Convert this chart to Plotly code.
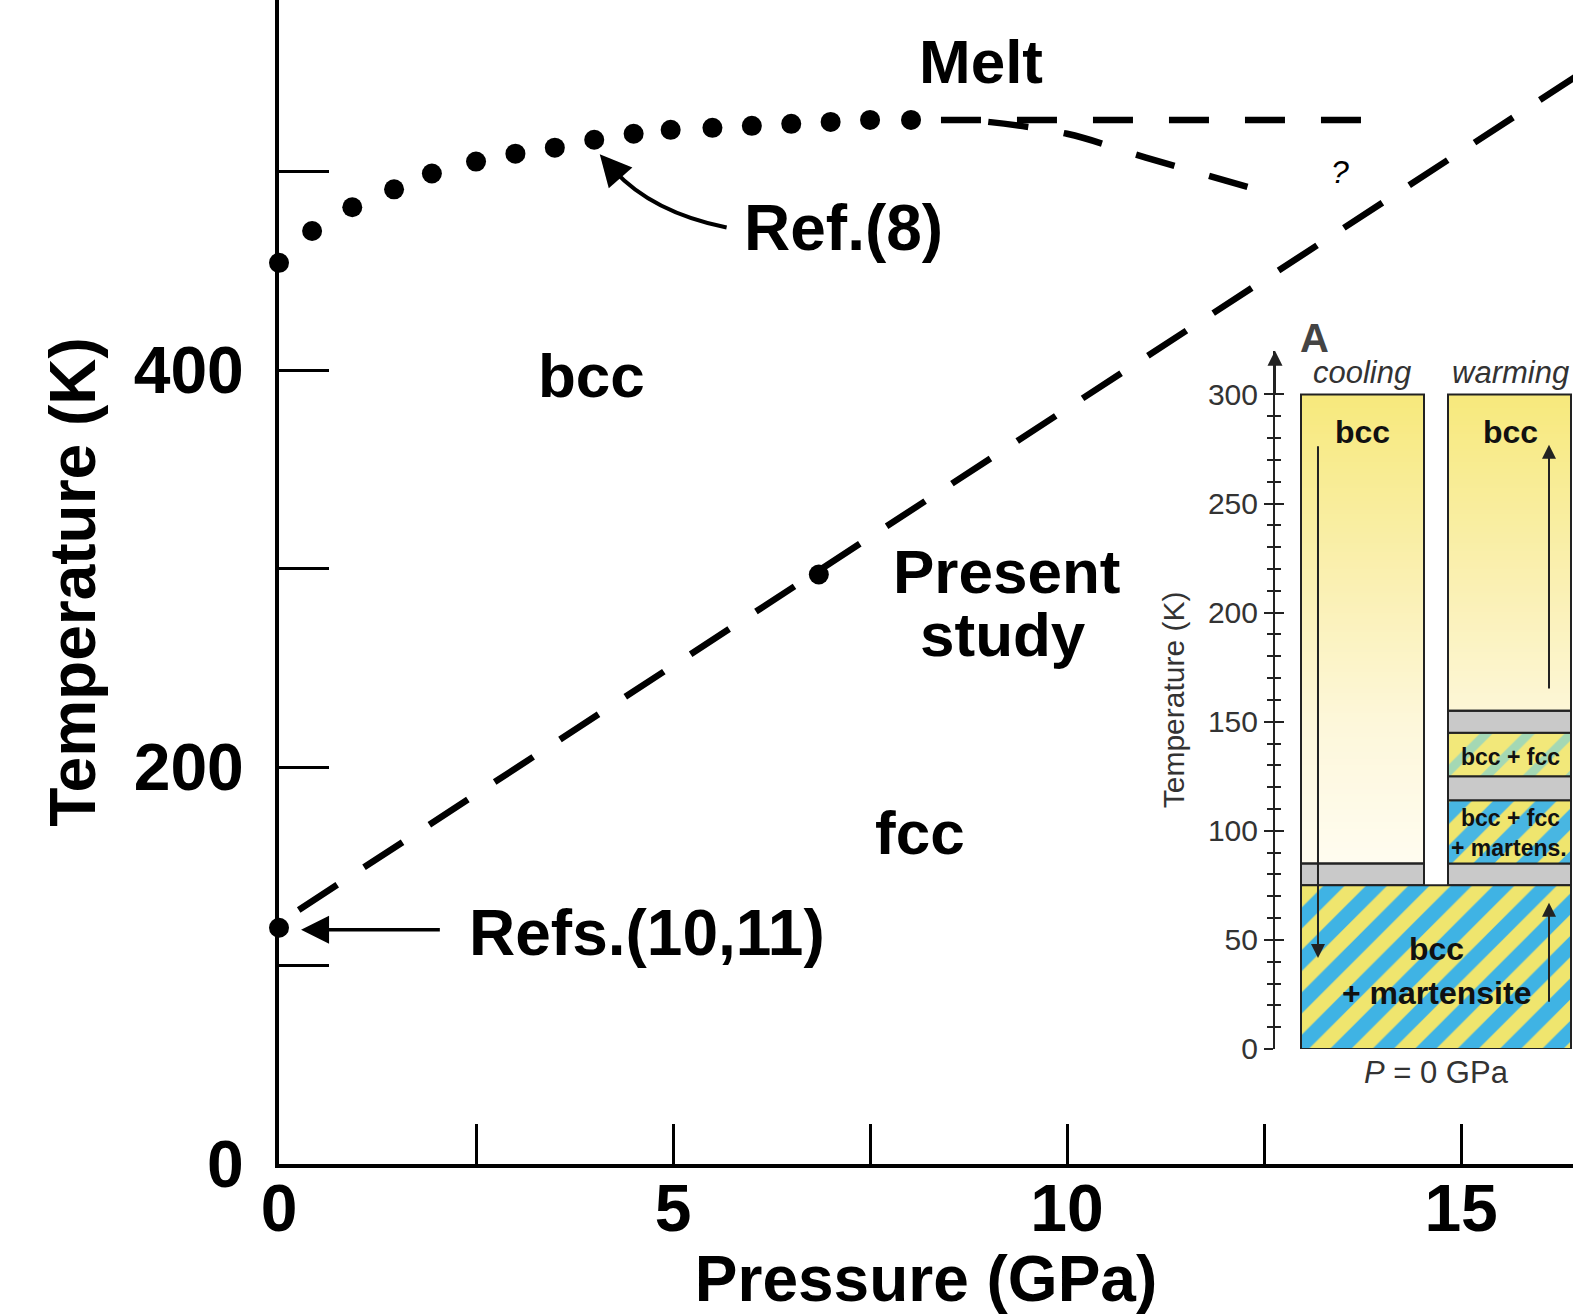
import numpy as np
import plotly.graph_objects as go

# ---------------- main phase diagram data ----------------
melt_p = [0, 0.42, 0.93, 1.46, 1.94, 2.5, 3.0, 3.5, 4.0, 4.5, 4.97, 5.5, 6.0, 6.5, 7.0, 7.5, 8.02]
melt_T = [454, 470, 482, 491, 499, 505, 509, 512, 516, 519, 521, 522, 523, 524, 525, 526, 526]

melt_ext_p = [8.4, 13.8]
melt_ext_T = [526, 526]

melt_bend_p = [9.0, 10.0, 11.0, 12.4]
melt_bend_T = [525, 519, 507, 491]

present_line_p = [0.25, 16.5]
present_line_T = [128, 549]
present_pt_p = [6.85]
present_pt_T = [297]

refs_pt_p = [0]
refs_pt_T = [119]

x_tickvals = [0, 2.5, 5, 7.5, 10, 12.5, 15]
x_ticktext = ['0', '', '5', '', '10', '', '15']
y_tickvals = [0, 100, 200, 300, 400, 500]
y_ticktext = ['0', '', '200', '', '400', '']

# ---------------- inset (panel A) data ----------------
inset_ticks = [0, 50, 100, 150, 200, 250, 300]
inset_minor = [v for v in range(10, 300, 10) if v % 50]
cool_bands = [(75, 85, 'grey'), (85, 300, 'bcc')]
warm_bands = [(75, 85, 'grey'), (85, 114, 'bcc+fcc+mart'), (114, 125, 'grey'),
              (125, 145, 'bcc+fcc'), (145, 155, 'grey'), (155, 300, 'bcc')]
shared_band = (0, 75, 'bcc+mart')

BOLD = 'Liberation Sans'

fig = go.Figure()

# main traces
fig.add_trace(go.Scatter(x=melt_p, y=melt_T, mode='markers',
                         marker=dict(size=20, color='black'), cliponaxis=False, showlegend=False))
fig.add_trace(go.Scatter(x=melt_ext_p, y=melt_ext_T, mode='lines',
                         line=dict(color='black', width=6.5, dash='40px,36px'), showlegend=False))
fig.add_trace(go.Scatter(x=melt_bend_p, y=melt_bend_T, mode='lines', line_shape='spline',
                         line=dict(color='black', width=6.5, dash='40px,36px'), showlegend=False))
fig.add_trace(go.Scatter(x=present_line_p, y=present_line_T, mode='lines',
                         line=dict(color='black', width=6.5, dash='46px,32px'), showlegend=False))
fig.add_trace(go.Scatter(x=present_pt_p, y=present_pt_T, mode='markers',
                         marker=dict(size=20, color='black'), showlegend=False))
fig.add_trace(go.Scatter(x=refs_pt_p, y=refs_pt_T, mode='markers', cliponaxis=False,
                         marker=dict(size=20, color='black'), showlegend=False))

# ---------------- inset traces ----------------
cool_x, warm_x, col_w = 87.5, 234.5, 123
yellow_scale = [[0, '#FFFCF0'], [0.3, '#FDF7DA'], [0.6, '#FAF0B2'], [1, '#F7E97C']]

def gradient(xc, t0, t1):
    edges = np.arange(t0, t1 + 1, 1.0)
    mids = (edges[:-1] + edges[1:]) / 2
    fig.add_trace(go.Heatmap(x=[xc - col_w / 2, xc + col_w / 2], y=edges,
                             z=[[m] for m in mids], zmin=85, zmax=300,
                             colorscale=yellow_scale, showscale=False, hoverinfo='skip',
                             xaxis='x2', yaxis='y2'))

def pat(fg, bg, sol):
    return dict(shape='/', fgcolor=fg, bgcolor=bg, fgopacity=1, size=30, solidity=sol, fillmode='overlay')

styles = {
    'grey': dict(color='#C9C9C9'),
    'bcc': dict(color='rgba(0,0,0,0)'),
    'bcc+fcc': dict(color='#F2E87A', pattern=pat('#A4D8B4', '#F2E87A', 0.3)),
    'bcc+fcc+mart': dict(color='#EFE56E', pattern=pat('#48B6E2', '#EFE56E', 0.5)),
    'bcc+mart': dict(color='#EFE56E', pattern=pat('#3FB3E4', '#EFE56E', 0.5)),
}

def band(xc, w, t0, t1, kind):
    m = dict(styles[kind])
    m['line'] = dict(color='#222', width=2)
    fig.add_trace(go.Bar(x=[xc], y=[t1 - t0], base=[t0], width=[w], marker=m,
                         xaxis='x2', yaxis='y2', showlegend=False, hoverinfo='skip'))

for t0, t1, k in cool_bands:
    if k == 'bcc':
        gradient(cool_x, t0, t1)
for t0, t1, k in warm_bands:
    if k == 'bcc':
        gradient(warm_x, t0, t1)
for t0, t1, k in cool_bands:
    band(cool_x, col_w, t0, t1, k)
for t0, t1, k in warm_bands:
    band(warm_x, col_w, t0, t1, k)
band(161, 270, shared_band[0], shared_band[1], shared_band[2])

fig.add_trace(go.Scatter(x=[], y=[], xaxis='x2', yaxis='y3', showlegend=False))

# ---------------- annotations ----------------
ann = []
def txt(x, y, s, size=62, xref='x', yref='y', color='black', family=BOLD, weight='bold', style='normal', **kw):
    ann.append(dict(x=x, y=y, xref=xref, yref=yref, text=s, showarrow=False,
                    xanchor='center', yanchor='middle',
                    font=dict(family=family, size=size, color=color, weight=weight, style=style), **kw))

txt(8.91, 555.2, 'Melt')
txt(7.16, 471.3, 'Ref.(8)', size=64)
txt(3.97, 397.0, 'bcc')
txt(9.23, 298.5, 'Present')
txt(9.19, 267.0, 'study')
txt(8.14, 166.9, 'fcc')
txt(4.67, 116.3, 'Refs.(10,11)', size=64)
txt(13.46, 499.6, '?', size=32, weight='normal', style='italic')

# arrows
ann.append(dict(x=0.28, y=118, ax=2.06, ay=118, xref='x', yref='y', axref='x', ayref='y',
                text='', showarrow=True, arrowhead=2, arrowsize=1.6, arrowwidth=3.5, arrowcolor='black'))
ann.append(dict(x=4.07, y=508.7, ax=4.25, ay=500.6, xref='x', yref='y', axref='x', ayref='y',
                text='', showarrow=True, arrowhead=2, arrowsize=1.8, arrowwidth=3.5, arrowcolor='black'))

# inset annotations
YD = 'y2 domain'
txt(40, 326 / 320, 'A', size=40, xref='x2', yref=YD, color='#444')
txt(87, 310, 'cooling', size=31, xref='x2', yref='y2', color='#333', weight='normal', style='italic')
txt(235, 310, 'warming', size=31, xref='x2', yref='y2', color='#333', weight='normal', style='italic')
txt(88, 283, 'bcc', size=32, xref='x2', yref='y2', color='#111')
txt(235, 283, 'bcc', size=32, xref='x2', yref='y2', color='#111')
txt(235, 134, 'bcc + fcc', size=23, xref='x2', yref='y2', color='#111')
txt(235, 106, 'bcc + fcc', size=23, xref='x2', yref='y2', color='#111')
txt(234, 92, '+ martens.', size=23, xref='x2', yref='y2', color='#111')
txt(162, 46, 'bcc', size=32, xref='x2', yref='y2', color='#111')
txt(162, 25.7, '+ martensite', size=32, xref='x2', yref='y2', color='#111')
txt(162, -11 / 320, '<i>P</i> = 0 GPa', size=31, xref='x2', yref=YD, color='#333', weight='normal')

ann.append(dict(x=43, y=41.7, ax=43, ay=277, xref='x2', yref='y2', axref='x2', ayref='y2',
                text='', showarrow=True, arrowhead=2, arrowsize=1.4, arrowwidth=2, arrowcolor='#222'))
ann.append(dict(x=274, y=277, ax=274, ay=164.5, xref='x2', yref='y2', axref='x2', ayref='y2',
                text='', showarrow=True, arrowhead=2, arrowsize=1.4, arrowwidth=2, arrowcolor='#222'))
ann.append(dict(x=274, y=67, ax=274, ay=21, xref='x2', yref='y2', axref='x2', ayref='y2',
                text='', showarrow=True, arrowhead=2, arrowsize=1.4, arrowwidth=2, arrowcolor='#222'))
ann.append(dict(x=0, y=320, ax=0, ay=300, xref='x2', yref='y2', axref='x2', ayref='y2',
                text='', showarrow=True, arrowhead=2, arrowsize=1.5, arrowwidth=2, arrowcolor='#222'))

shapes = [dict(type='path', xref='x', yref='y',
               path='M 5.68,471.8 Q 4.74,479.4 4.25,500.6',
               line=dict(color='black', width=4))]

fig.update_layout(
    width=1573, height=1315,
    margin=dict(l=279, r=0, t=0, b=151, autoexpand=False),
    paper_bgcolor='white', plot_bgcolor='rgba(0,0,0,0)',
    barmode='overlay', showlegend=False,
    font=dict(family=BOLD, color='black'),
    xaxis=dict(range=[0, 16.42], showgrid=False, zeroline=False, showline=True, linecolor='black',
               linewidth=4, ticks='inside', ticklen=40, tickwidth=3, tickcolor='black',
               tickmode='array', tickvals=x_tickvals, ticktext=x_ticktext, automargin=False,
               tickfont=dict(family=BOLD, size=66, weight='bold'), ticklabelstandoff=-16,
               title=dict(text='Pressure (GPa)', font=dict(family=BOLD, size=64, weight='bold'), standoff=34)),
    yaxis=dict(range=[0, 586.4], showgrid=False, zeroline=False, showline=True, linecolor='black',
               linewidth=4, ticks='inside', ticklen=50, tickwidth=3, tickcolor='black',
               tickmode='array', tickvals=y_tickvals, ticktext=y_ticktext, automargin=False,
               tickfont=dict(family=BOLD, size=66, weight='bold'), ticklabelstandoff=18,
               title=dict(text='Temperature (K)', font=dict(family=BOLD, size=64, weight='bold'), standoff=18)),
    xaxis2=dict(domain=[0.7697, 1.0], range=[0, 298], anchor='y2', visible=False),
    yaxis2=dict(domain=[0.0988, 0.6986], range=[0, 320], anchor='x2', showgrid=False, zeroline=False,
                showline=True, linecolor='#222', linewidth=2, automargin=False,
                ticks='outside', ticklen=9, tickwidth=2, tickcolor='#222',
                tickmode='array', tickvals=inset_ticks,
                minor=dict(tickmode='array', tickvals=inset_minor, ticks='outside', ticklen=6,
                           tickwidth=1.5, tickcolor='#222'),
                tickfont=dict(family='Liberation Sans', size=30, color='#333'),
                title=dict(text='Temperature (K)', font=dict(family='Liberation Sans', size=30, color='#333'),
                           standoff=14)),
    yaxis3=dict(overlaying='y2', anchor='x2', range=[0, 320], showgrid=False, zeroline=False,
                showline=False, showticklabels=False, automargin=False,
                ticks='inside', ticklen=9, tickwidth=2, tickcolor='#222',
                tickmode='array', tickvals=inset_ticks,
                minor=dict(tickmode='array', tickvals=inset_minor, ticks='inside', ticklen=6,
                           tickwidth=1.5, tickcolor='#222')),
    annotations=ann,
    shapes=shapes,
)

fig.write_html('out.html', config={'displayModeBar': False})
